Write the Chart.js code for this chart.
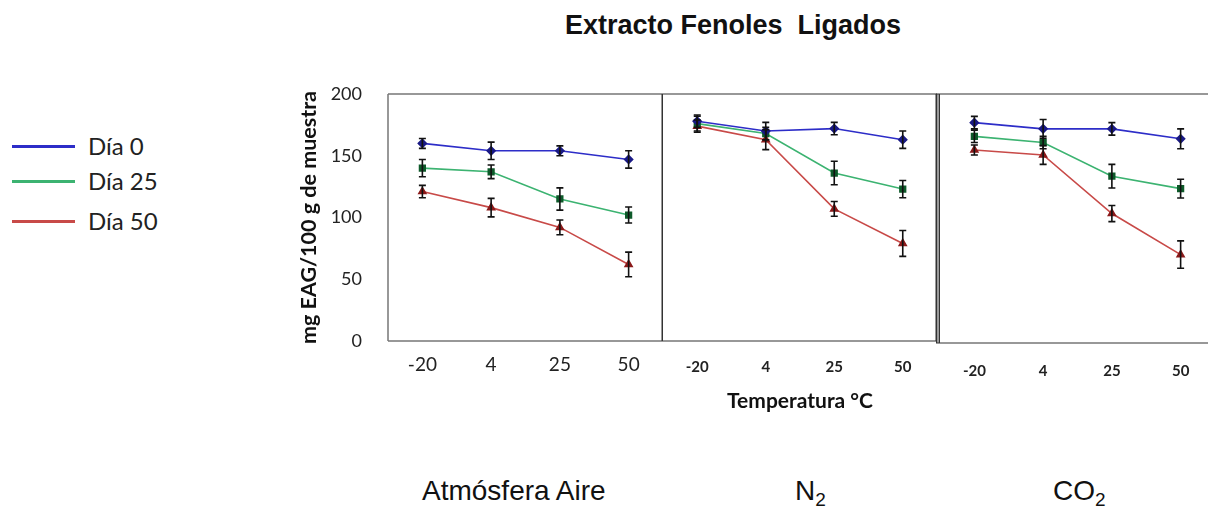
<!DOCTYPE html>
<html>
<head>
<meta charset="utf-8">
<script src="https://cdn.jsdelivr.net/npm/chart.js@4.4.1/dist/chart.umd.min.js"></script>
<style>
  html, body { margin: 0; padding: 0; background: #fff; overflow: hidden; }
  #page { position: relative; width: 1208px; height: 509px; overflow: hidden; }
  .abs { position: absolute; }
  canvas { position: absolute; }
  #title { left: 0; width: 1466px; top: 10px; text-align: center; font: bold 27px "Liberation Sans", Arial, sans-serif; color: #111; white-space: pre; }
  .legend-row { position: absolute; left: 12px; height: 30px; font: 24px/30px Lato, sans-serif; color: #222; }
  .legend-row span.ln { position: absolute; left: 0; top: 14px; width: 63px; height: 3px; }
  .legend-row span.tx { position: absolute; left: 76px; top: 0; white-space: nowrap; }
  .atm { top: 475px; font: 28px "Liberation Sans", Arial, sans-serif; color: #111; white-space: nowrap; }
  .atm sub { font-size: 19px; vertical-align: -6px; }
</style>
</head>
<body>
<div id="page">
  <div id="title" class="abs">Extracto Fenoles  Ligados</div>
  <div id="legend"></div>
  <canvas id="panelAire" width="373" height="330" style="left:290px;top:80px;width:373px;height:330px"></canvas>
  <canvas id="panelN2" width="274" height="340" style="left:663px;top:80px;width:274px;height:340px"></canvas>
  <canvas id="panelCO2" width="279" height="330" style="left:936px;top:80px;width:279px;height:330px"></canvas>
  <div class="abs atm" style="left:422px">Atmósfera Aire</div>
  <div class="abs atm" style="left:795px">N<sub>2</sub></div>
  <div class="abs atm" style="left:1053px">CO<sub>2</sub></div>
</div>
<script>
// temperatures (°C) on the x axis
const temps = ['-20', '4', '25', '50'];
const seriesNames = ['Día 0', 'Día 25', 'Día 50'];

// mg EAG/100 g de muestra, atmosphere: air
const aireDia0 = [160, 154, 154, 147];
const aireDia25 = [140, 137, 115, 102];
const aireDia50 = [121, 108, 92, 62];
const aireErr0 = [4, 7, 4, 7];
const aireErr25 = [7, 5.5, 9, 6.5];
const aireErr50 = [5, 7.5, 6, 10];

// atmosphere: N2
const n2Dia0 = [178, 170, 172, 163];
const n2Dia25 = [176, 168, 136, 123];
const n2Dia50 = [174, 163, 107, 79];
const n2Err0 = [5, 7, 5, 7];
const n2Err25 = [6, 5, 9.5, 7];
const n2Err50 = [5, 8, 6, 10.5];

// atmosphere: CO2
const co2Dia0 = [177, 172, 172, 164];
const co2Dia25 = [166, 161, 134, 124];
const co2Dia50 = [155, 151, 104, 71];
const co2Err0 = [5, 7.5, 5, 8];
const co2Err25 = [5, 5, 9.5, 7.5];
const co2Err50 = [4, 7.5, 6.5, 11];

const yTicks = [0, 50, 100, 150, 200];

const lineColors = ['#2d2dc8', '#3cb371', '#c84a48'];
const markColors = ['#1a1a86', '#0e5a2a', '#8b1a1a'];
const markStyles = ['rectRot', 'rect', 'triangle'];

// legend on the left
var legendBox = document.getElementById('legend');
var legendTops = [131, 166, 206];
seriesNames.forEach(function(name, i){
  var row = document.createElement('div');
  row.className = 'legend-row';
  row.style.top = legendTops[i] + 'px';
  row.innerHTML = '<span class="ln" style="background:' + lineColors[i] + '"></span><span class="tx">' + name + '</span>';
  legendBox.appendChild(row);
});

// error bars drawn through the chart's own scales
const errorBars = {
  id: 'errorBars',
  afterDatasetsDraw(chart){
    const ctx = chart.ctx;
    const y = chart.scales.y;
    ctx.save();
    ctx.strokeStyle = '#111';
    ctx.lineWidth = 1.6;
    chart.data.datasets.forEach(function(ds, i){
      const meta = chart.getDatasetMeta(i);
      meta.data.forEach(function(pt, j){
        const v = ds.data[j], e = ds.errors[j];
        const y1 = y.getPixelForValue(v + e), y2 = y.getPixelForValue(v - e);
        ctx.beginPath();
        ctx.moveTo(pt.x, y1); ctx.lineTo(pt.x, y2);
        ctx.moveTo(pt.x - 3.5, y1); ctx.lineTo(pt.x + 3.5, y1);
        ctx.moveTo(pt.x - 3.5, y2); ctx.lineTo(pt.x + 3.5, y2);
        ctx.stroke();
      });
    });
    ctx.restore();
  }
};

// frame round the plot area
const frame = {
  id: 'frame',
  beforeDraw(chart, args, opts){
    const a = chart.chartArea;
    const ctx = chart.ctx;
    ctx.save();
    if (opts.doubleLeft) {
      ctx.fillStyle = '#9a9a9a';
      ctx.fillRect(0, a.top, a.left, a.bottom - a.top);
      ctx.strokeStyle = '#333';
      ctx.lineWidth = 1;
      ctx.strokeRect(0.5, a.top, a.left - 1, a.bottom - a.top);
    }
    ctx.strokeStyle = opts.color || '#777';
    ctx.lineWidth = 1.5;
    ctx.beginPath();
    ctx.moveTo(a.left, a.top); ctx.lineTo(a.right, a.top);
    ctx.moveTo(a.left, a.bottom); ctx.lineTo(a.right, a.bottom);
    if (opts.left) { ctx.moveTo(a.left, a.top); ctx.lineTo(a.left, a.bottom); }
    ctx.stroke();
    if (opts.right) {
      ctx.strokeStyle = '#333';
      ctx.beginPath();
      ctx.moveTo(a.right - 0.75, a.top); ctx.lineTo(a.right - 0.75, a.bottom);
      ctx.stroke();
    }
    ctx.restore();
  }
};

function makeDatasets(values, errs){
  return values.map(function(v, i){
    return {
      label: seriesNames[i],
      data: v,
      errors: errs[i],
      borderColor: lineColors[i],
      backgroundColor: markColors[i],
      pointBorderColor: markColors[i],
      pointBackgroundColor: markColors[i],
      pointStyle: markStyles[i],
      pointRadius: 4,
      borderWidth: 1.6,
      tension: 0
    };
  });
}

function buildPanel(elementId, values, errs, opt){
  const ctx = document.getElementById(elementId).getContext('2d');
  return new Chart(ctx, {
    type: 'line',
    data: { labels: temps, datasets: makeDatasets(values, errs) },
    plugins: [frame, errorBars],
    options: {
      responsive: false,
      animation: false,
      layout: { autoPadding: false, padding: { top: 14, left: opt.padLeft || 0, right: 0, bottom: 0 } },
      plugins: {
        legend: { display: false },
        tooltip: { enabled: false },
        frame: opt.frame
      },
      scales: {
        x: {
          type: 'category',
          offset: true,
          grid: { display: false, drawTicks: false },
          border: { display: false },
          ticks: { color: '#222', font: opt.xFont, padding: opt.xPad },
          title: opt.xTitle,
          afterFit: function(s){
            s.height = opt.xHeight;
            s.paddingLeft = 0; s.paddingRight = 0;
          }
        },
        y: {
          display: opt.showY,
          min: 0, max: 200,
          afterBuildTicks: function(s){ s.ticks = yTicks.map(function(v){ return { value: v }; }); },
          grid: { display: false, drawTicks: false },
          border: { display: false },
          ticks: { color: '#222', font: { family: 'Lato', size: 18 }, padding: 26 },
          title: {
            display: true,
            text: 'mg EAG/100 g de muestra',
            color: '#111',
            font: { family: 'Lato', size: 21.5, weight: 'bold' },
            padding: { top: 6, bottom: 0 }
          },
          afterFit: function(s){
            if (opt.showY) s.width = 98;
            s.paddingTop = 0; s.paddingBottom = 0;
          }
        }
      }
    }
  });
}

buildPanel('panelAire', [aireDia0, aireDia25, aireDia50], [aireErr0, aireErr25, aireErr50], {
  showY: true,
  xFont: { family: 'Lato', size: 19 },
  xPad: 12,
  xHeight: 69,
  xTitle: { display: false },
  frame: { left: true, right: true }
});

buildPanel('panelN2', [n2Dia0, n2Dia25, n2Dia50], [n2Err0, n2Err25, n2Err50], {
  showY: false,
  xFont: { family: 'Lato', size: 15, weight: 'bold' },
  xPad: 17,
  xHeight: 79,
  xTitle: {
    display: true,
    text: 'Temperatura °C',
    color: '#111',
    font: { family: 'Lato', size: 21, weight: 'bold' },
    padding: { top: 0, bottom: 6 }
  },
  frame: { right: true }
});

buildPanel('panelCO2', [co2Dia0, co2Dia25, co2Dia50], [co2Err0, co2Err25, co2Err50], {
  showY: false,
  padLeft: 4,
  xFont: { family: 'Lato', size: 15, weight: 'bold' },
  xPad: 19,
  xHeight: 67,
  xTitle: { display: false },
  frame: { doubleLeft: true }
});
</script>
</body>
</html>
